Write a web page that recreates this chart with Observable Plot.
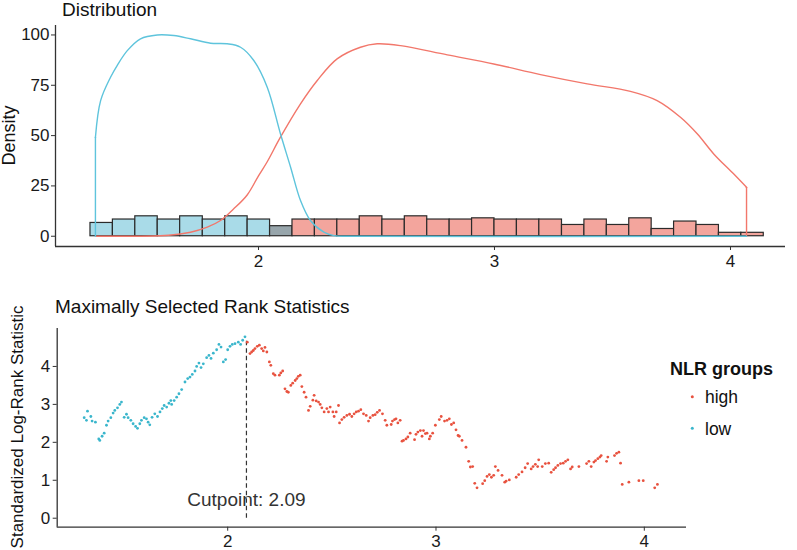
<!DOCTYPE html>
<html>
<head>
<meta charset="utf-8">
<script src="https://cdn.jsdelivr.net/npm/d3@7"></script>
<script src="https://cdn.jsdelivr.net/npm/@observablehq/plot@0.6"></script>
<style>
  html, body { margin: 0; padding: 0; background: #ffffff; }
  #wrap { position: relative; width: 797px; height: 550px; overflow: hidden; background: #fff;
          font-family: "Liberation Sans", Arial, sans-serif; }
  #wrap svg { position: absolute; left: 0; }
</style>
</head>
<body>
<div id="wrap"></div>
<script>
// ---------------- DATA ----------------
// Histogram (top panel): bin edges and bar heights (Density units)
const binEdges = [1.288,1.383,1.478,1.573,1.668,1.764,1.859,1.954,2.049,2.144,
                  2.239,2.334,2.429,2.525,2.620,2.715,2.810,2.905,3.000,3.095,
                  3.190,3.286,3.381,3.476,3.571,3.666,3.761,3.856,3.951,4.046,4.141];
const binHeights = [6.6,8.3,9.9,8.3,9.9,8.3,9.9,8.3,5.0,8.3,
                    8.3,8.3,9.9,8.3,9.9,8.3,8.3,8.9,8.3,8.3,
                    8.3,5.6,8.3,5.6,8.9,3.6,7.3,5.6,1.7,1.7];
const binGroups = ["low","low","low","low","low","low","low","low","both","high",
                   "high","high","high","high","high","high","high","high","high","high",
                   "high","high","high","high","high","high","high","high","high","high"];

// Density curves (top panel)
const lowDensX = [1.309,1.309,1.331,1.373,1.401,1.444,1.500,1.571,1.641,1.712,1.797,1.867,1.924,1.980,2.037,2.093,2.136,2.178,2.220,2.277,2.320,2.400,4.068];
const lowDensY = [0,49.2,67.4,79.0,84.8,92.2,98.1,100.0,99.7,98.1,95.9,95.6,93.9,87.3,74.0,50.9,34.3,17.7,7.8,2.0,0.3,0,0];
const highDensX = [1.309,1.620,1.712,1.783,1.839,1.895,1.952,2.000,2.037,2.093,2.178,2.249,2.333,2.432,2.503,2.602,2.800,2.997,3.195,3.393,3.576,3.689,3.788,3.859,3.929,4.013,4.068,4.068];
const highDensY = [0,0.5,2.0,4.5,7.8,13.6,20.5,30.0,37.0,49.2,65.8,77.4,88.1,93.9,95.6,94.7,90.1,85.6,80.3,75.7,72.0,67.4,59.1,50.9,40.9,31.0,24.3,0];

// Maximally selected rank statistics (bottom panel)
const lowCutX = [1.311,1.322,1.327,1.343,1.349,1.365,1.381,1.386,1.397,1.407,1.418,1.426,1.439,1.450,1.458,1.471,1.482,1.490,
  1.503,1.514,1.522,1.535,1.546,1.558,1.567,1.578,1.586,1.599,1.610,1.618,1.626,1.637,1.650,1.663,1.675,1.686,1.695,1.707,
  1.718,1.727,1.731,1.743,1.755,1.766,1.779,1.795,1.808,1.819,1.830,1.843,1.851,1.862,1.872,1.883,1.899,1.910,1.920,1.931,
  1.947,1.958,1.968,1.979,1.990,2.000,2.011,2.022,2.035,2.051,2.062,2.072,2.083];
const lowStat = [2.65,2.58,2.82,2.68,2.56,2.53,2.09,2.05,2.16,2.24,2.45,2.56,2.65,2.77,2.84,2.91,3.00,3.06,
  2.66,2.74,2.65,2.58,2.49,2.42,2.37,2.49,2.58,2.65,2.62,2.53,2.46,2.66,2.75,2.68,2.80,2.89,2.97,2.93,
  3.03,3.10,3.00,3.10,3.19,3.28,3.39,3.59,3.68,3.72,3.79,3.88,4.00,4.09,3.97,4.07,4.23,4.29,4.21,4.35,
  4.44,4.58,4.51,4.12,4.18,4.44,4.53,4.58,4.60,4.64,4.58,4.69,4.78];
const highCutX = [2.094,2.107,2.115,2.123,2.131,2.142,2.152,2.163,2.171,2.179,2.188,2.200,2.207,2.219,2.227,2.248,2.255,2.264,
  2.275,2.284,2.291,2.303,2.312,2.324,2.332,2.339,2.348,2.356,2.367,2.376,2.388,2.396,2.409,2.415,2.425,2.436,2.444,2.452,
  2.463,2.476,2.484,2.492,2.505,2.511,2.521,2.532,2.537,2.548,2.559,2.572,2.585,2.596,2.607,2.617,2.628,2.639,2.652,2.665,
  2.676,2.684,2.697,2.708,2.718,2.729,2.743,2.756,2.764,2.785,2.791,2.801,2.808,2.817,2.828,2.837,2.844,2.856,2.865,2.876,
  2.897,2.904,2.913,2.925,2.933,2.940,2.949,2.957,2.968,2.973,2.984,2.997,3.016,3.025,3.041,3.053,3.064,3.074,3.085,3.096,
  3.106,3.112,3.125,3.144,3.157,3.165,3.176,3.186,3.197,3.224,3.234,3.245,3.256,3.266,3.277,3.285,3.298,3.317,3.330,3.337,
  3.352,3.385,3.397,3.413,3.428,3.440,3.457,3.466,3.477,3.488,3.493,3.510,3.525,3.541,3.553,3.565,3.574,3.585,3.598,3.611,
  3.622,3.633,3.646,3.654,3.686,3.723,3.734,3.745,3.758,3.766,3.777,3.787,3.793,3.819,3.825,3.857,3.867,3.878,3.886,3.894,
  3.926,3.974,3.995,4.050,4.063];
const highStat = [4.64,4.34,4.38,4.42,4.47,4.53,4.56,4.47,4.41,4.50,4.38,4.12,4.03,3.81,3.77,3.77,3.83,3.88,
  3.41,3.34,3.32,3.50,3.56,3.63,3.68,3.74,3.77,3.47,3.32,3.19,2.84,2.95,3.11,3.24,3.09,3.06,3.00,2.91,
  2.80,2.89,2.80,2.93,2.80,2.68,2.80,2.97,2.51,2.60,2.66,2.71,2.74,2.68,2.75,2.80,2.82,2.86,2.75,2.71,
  2.56,2.65,2.71,2.73,2.79,2.84,2.75,2.58,2.45,2.47,2.56,2.60,2.62,2.51,2.58,2.03,2.05,2.09,2.14,2.24,
  2.07,2.21,2.27,2.31,2.16,2.31,2.23,2.24,2.09,2.16,2.24,2.45,2.60,2.68,2.56,2.58,2.62,2.47,2.51,2.33,
  2.18,2.16,2.05,1.87,1.50,1.35,1.36,0.92,0.80,0.91,0.99,1.10,1.15,1.08,1.13,1.36,1.26,1.13,0.95,0.98,
  1.01,1.08,1.15,1.22,1.33,1.44,1.30,1.36,1.42,1.36,1.54,1.36,1.44,1.45,1.21,1.28,1.33,1.39,1.44,1.45,
  1.50,1.54,1.30,1.35,1.36,1.44,1.50,1.36,1.48,1.52,1.57,1.61,1.65,1.50,1.61,1.65,1.71,1.74,1.45,0.89,
  0.95,0.99,0.99,0.80,0.89];

const cutpoint = 2.09;
const cutpointStat = 4.74;
const cutpointLabel = "Cutpoint: 2.09";
const cutpointLabelY = 0.47;

const topYTicks = [0, 25, 50, 75, 100];
const topXTicks = [2, 3, 4];
const botYTicks = [0, 1, 2, 3, 4];
const botXTicks = [2, 3, 4];

const groupNames = ["high", "low"];
const legendTitle = "NLR groups";

// ---------------- BUILD ----------------
const FONT = '"Liberation Sans", Arial, Helvetica, sans-serif';
const wrap = document.getElementById("wrap");
const fmt = d => String(d);

const bins = binHeights.map((h, i) => ({x1: binEdges[i], x2: binEdges[i + 1], h, g: binGroups[i]}));
const lowDens = lowDensX.map((x, i) => ({x, y: lowDensY[i]}));
const highDens = highDensX.map((x, i) => ({x, y: highDensY[i]}));
const lowPts = lowCutX.map((x, i) => ({x, y: lowStat[i]}));
const highPts = highCutX.map((x, i) => ({x, y: highStat[i]}));

// vertical drops at the density ends are straight; the rest is smooth
const lowEdge = lowDens.slice(0, 2), lowSmooth = lowDens.slice(1);
const highSmooth = highDens.slice(0, -1), highEdge = highDens.slice(-2);

const axisColor = "#333333";
const blueLine = "#5EC4DC", redLine = "#F2776B";
const topX = [1.1398, 4.2331], topY = [-5.1, 104.7];

const topPlot = Plot.plot({
  width: 797, height: 275,
  marginTop: 25, marginBottom: 29, marginLeft: 55, marginRight: 12,
  style: {fontSize: "17px", fontFamily: FONT, color: "#1a1a1a", background: "transparent", overflow: "visible"},
  x: {domain: topX},
  y: {domain: topY},
  color: {domain: ["low", "both", "high"], range: ["#A9DBE8", "#97A5AB", "#F3A59D"]},
  marks: [
    Plot.rect(bins, {x1: "x1", x2: "x2", y1: 0, y2: "h", fill: "g", stroke: "#2b2b2b", strokeWidth: 1.2}),
    Plot.line(highSmooth, {x: "x", y: "y", stroke: redLine, strokeWidth: 1.4, curve: "catmull-rom"}),
    Plot.line(highEdge, {x: "x", y: "y", stroke: redLine, strokeWidth: 1.4}),
    Plot.line(lowSmooth, {x: "x", y: "y", stroke: blueLine, strokeWidth: 1.4, curve: "catmull-rom"}),
    Plot.line(lowEdge, {x: "x", y: "y", stroke: blueLine, strokeWidth: 1.4}),
    Plot.ruleX([topX[0]], {stroke: axisColor, strokeWidth: 1.3}),
    Plot.ruleY([topY[0]], {stroke: axisColor, strokeWidth: 1.3}),
    Plot.axisX({ticks: topXTicks, tickFormat: fmt, tickSize: 4, tickPadding: 4, label: null, stroke: axisColor}),
    Plot.axisY({ticks: topYTicks, tickFormat: fmt, tickSize: 4, tickPadding: 2, label: null, stroke: axisColor})
  ]
});
topPlot.style.top = "0px";
wrap.appendChild(topPlot);

const botX = [1.1815, 4.2026], botY = [-0.237, 5.0];
const bottomPlot = Plot.plot({
  width: 797, height: 270,
  marginTop: 48, marginBottom: 23.3, marginLeft: 56.7, marginRight: 111,
  style: {fontSize: "17px", fontFamily: FONT, color: "#1a1a1a", background: "transparent", overflow: "visible"},
  x: {domain: botX},
  y: {domain: botY},
  marks: [
    Plot.ruleX([cutpoint], {y1: 0, y2: cutpointStat, stroke: "#333", strokeWidth: 1.2, strokeDasharray: "4.5,3"}),
    Plot.dot(lowPts, {x: "x", y: "y", r: 1.4, fill: "#3AB6CC", stroke: "none"}),
    Plot.dot(highPts, {x: "x", y: "y", r: 1.4, fill: "#E8523F", stroke: "none"}),
    Plot.text([cutpointLabel], {x: cutpoint, y: cutpointLabelY, text: d => d, fontSize: 19, fill: "#333"}),
    Plot.ruleX([botX[0]], {stroke: axisColor, strokeWidth: 1.3}),
    Plot.ruleY([botY[0]], {stroke: axisColor, strokeWidth: 1.3}),
    Plot.axisX({ticks: botXTicks, tickFormat: fmt, tickSize: 4, tickPadding: 4, label: null, stroke: axisColor}),
    Plot.axisY({ticks: botYTicks, tickFormat: fmt, tickSize: 4, tickPadding: 3, label: null, stroke: axisColor})
  ]
});
bottomPlot.style.top = "280px";
wrap.appendChild(bottomPlot);

// ---------------- ANNOTATIONS (titles, axis labels, legend) ----------------
const ov = d3.select(wrap).append("svg")
  .attr("width", 797).attr("height", 550)
  .style("top", "0px").style("pointer-events", "none")
  .style("font-family", FONT);

ov.append("text").attr("x", 62).attr("y", 16).attr("font-size", 19).attr("fill", "#111").text("Distribution");
ov.append("text").attr("transform", "translate(15,135.5) rotate(-90)").attr("text-anchor", "middle")
  .attr("font-size", 18).attr("fill", "#111").text("Density");
ov.append("text").attr("x", 55).attr("y", 313).attr("font-size", 19).attr("fill", "#111").text("Maximally Selected Rank Statistics");
ov.append("text").attr("transform", "translate(23,427) rotate(-90)").attr("text-anchor", "middle")
  .attr("font-size", 17).attr("fill", "#111").text("Standardized Log-Rank Statistic");

const legendColors = {high: "#E8523F", low: "#3AB6CC"};
ov.append("text").attr("x", 670).attr("y", 375).attr("font-size", 18).attr("font-weight", "bold")
  .attr("fill", "#111").text(legendTitle);
groupNames.forEach((g, i) => {
  const cy = 396.7 + i * 31.6;
  ov.append("circle").attr("cx", 692.3).attr("cy", cy).attr("r", 1.5).attr("fill", legendColors[g]);
  ov.append("text").attr("x", 705).attr("y", cy + 6.3).attr("font-size", 17.5).attr("fill", "#111").text(g);
});
</script>
</body>
</html>
